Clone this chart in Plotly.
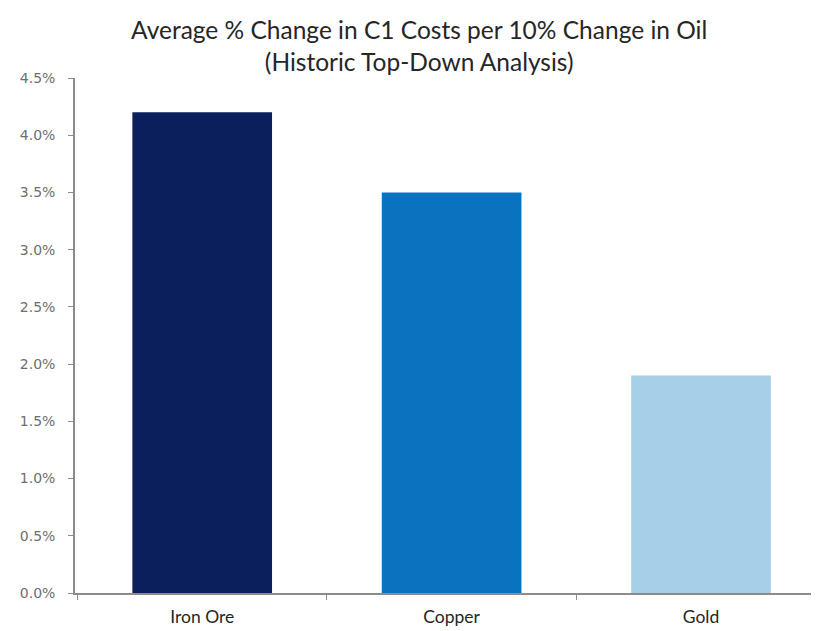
import plotly.graph_objects as go

categories = ["Iron Ore", "Copper", "Gold"]
values = [0.042, 0.035, 0.019]
colors = ["#0b1f5c", "#0a73bf", "#a6cfe8"]
y_ticks = [0.0, 0.005, 0.01, 0.015, 0.02, 0.025, 0.03, 0.035, 0.04, 0.045]
y_labels = ["0.0%", "0.5%", "1.0%", "1.5%", "2.0%", "2.5%", "3.0%", "3.5%", "4.0%", "4.5%"]

fig = go.Figure(go.Bar(x=categories, y=values, marker=dict(color=colors, line=dict(width=0)), width=0.56))

fig.update_layout(
    width=811, height=623,
    margin=dict(l=67, r=0, t=70, b=38),
    paper_bgcolor="white", plot_bgcolor="white",
    font=dict(family="Lato, Open Sans, sans-serif", color="#404040"),
    title=dict(text="Average % Change in C1 Costs per 10% Change in Oil<br>(Historic Top-Down Analysis)",
               x=0.507, xanchor="center", y=0.95, yanchor="top",
               font=dict(size=24.5, color="#262626")),
    showlegend=False,
)
fig.update_xaxes(range=[-0.51, 2.473], showline=True, linecolor="#8c8c8c", linewidth=1.5,
                 ticks="outside", tickson="boundaries", ticklen=5, tickcolor="#8c8c8c",
                 ticklabelstandoff=7,
                 tickfont=dict(size=17.5, color="#262626"), showgrid=False)
fig.update_yaxes(range=[0, 0.045], tickvals=y_ticks, ticktext=y_labels, showline=True,
                 linecolor="#8c8c8c", linewidth=1.5, ticks="outside", ticklen=5, tickcolor="#8c8c8c",
                 ticklabelstandoff=10,
                 tickfont=dict(family="DejaVu Sans, sans-serif", size=14, color="#6e6e6e"),
                 showgrid=False, zeroline=False)

fig.write_html("out.html")
